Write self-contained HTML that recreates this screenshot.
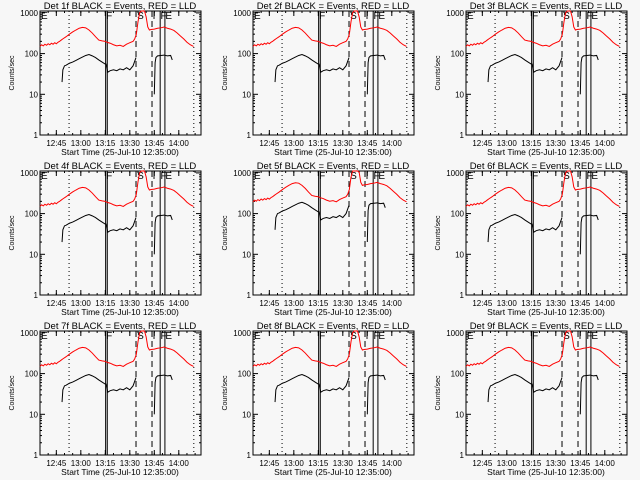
<!DOCTYPE html>
<html><head><meta charset="utf-8"><style>
body{margin:0;background:#f7f7f7;}
svg{display:block;font-family:"Liberation Sans",sans-serif;}
</style></head><body>
<svg id="c" width="640" height="480"></svg>
<script>
const detectors=["1f","2f","3f","4f","5f","6f","7f","8f","9f"];
const redScale=[1,1,1,1,1.3,1,1,1,1];
const blackScale=[1,1,1,1,2,1,1,1,1];
const redT=[0,1,2,3,4,5,6,7,8,9,10,11,12,13,14,16,18,20,22,24,26,28,30,32,34,36,38,40,41,43,45,47,49,51,53,55,57,58,59,60,61,62,63,64,65,66,67,68,70,72,74,76,78,80,82,84,86,88,90,92,94];
const redV=[150,165,155,170,160,175,165,180,170,185,175,190,200,215,230,260,300,340,380,420,440,430,380,320,260,215,205,200,190,180,165,155,160,150,170,185,200,230,300,600,1000,1150,1200,1150,800,450,380,390,400,420,430,450,420,400,370,320,270,230,190,165,150];
const blackT1=[13.5,14,15,16,17,18,20,22,24,26,28,30,32,34,36,38,40,40.5,41.5,43,45,47,49,51,53,55,57,58.8];
const blackV1=[20,40,50,52,55,58,62,68,75,82,90,95,88,80,70,62,55,55,35,38,40,38,42,40,45,40,50,80];
const blackT2=[70,70.5,71,72,74,76,78,80,81];
const blackV2=[10,60,80,88,90,92,88,90,70];
const tickLabels=["12:45","13:00","13:15","13:30","13:45","14:00"];
const tickMins=[10,25,40,55,70,85];
const dottedT=[17.8,94.2];
const solidT=[40.2,41.2,73.6,76.5];
const dashedT=[58.8,68.6];
const yTicks=[1,10,100,1000];
const NS="http://www.w3.org/2000/svg";
const svg=document.getElementById('c');
function mk(tag,attrs,parent,name){const e=document.createElementNS(NS,tag);for(const k in attrs)e.setAttribute(k,attrs[k]);


parent.appendChild(e);return e;}
function txt(s,attrs,parent,name){const e=mk('text',attrs,parent,name);e.textContent=s;return e;}
const L=40,R=201,T=11,B=135,PPD=40.7,TMAX=98.6;
detectors.forEach((d,i)=>{
  const ox=(i%3)*213, oy=Math.floor(i/3)*160;
  const g=mk('g',{transform:`translate(${ox},${oy})`},svg,'panel-det-'+d);
  const xs=t=>L+t/TMAX*(R-L);
  const ys=v=>B-Math.log10(Math.max(v,1))*PPD;
  txt(`Det ${d} BLACK = Events, RED = LLD`,{x:120,y:9,'font-size':9.5,'text-anchor':'middle'},g,'panel-title');
  mk('rect',{x:L,y:T,width:R-L,height:B-T,fill:'none',stroke:'#000','stroke-width':1},g,'plot-frame');
  yTicks.forEach(v=>{const y=ys(v);
    mk('line',{x1:L,x2:L+5,y1:y,y2:y,stroke:'#000'},g,'y-tick');
    mk('line',{x1:R-5,x2:R,y1:y,y2:y,stroke:'#000'},g,'y-tick');
    txt(String(v),{x:L-2,y:y+3,'font-size':8,'text-anchor':'end'},g,'y-tick-label');
    if(v<1000)for(let m=2;m<10;m++){const ym=ys(v*m);
      mk('line',{x1:L,x2:L+2,y1:ym,y2:ym,stroke:'#000'},g,'y-minor-tick');
      mk('line',{x1:R-2,x2:R,y1:ym,y2:ym,stroke:'#000'},g,'y-minor-tick');}
  });
  txt('Counts/sec',{x:0,y:0,'font-size':7,'text-anchor':'middle',transform:`translate(14,73) rotate(-90)`},g,'y-axis-title');
  tickMins.forEach((t,k)=>{const x=xs(t);
    mk('line',{x1:x,x2:x,y1:B,y2:B-5,stroke:'#000'},g,'x-tick');
    mk('line',{x1:x,x2:x,y1:T,y2:T+5,stroke:'#000'},g,'x-tick');
    txt(tickLabels[k],{x:x,y:146,'font-size':8,'text-anchor':'middle'},g,'x-tick-label');});
  for(let t=5;t<TMAX;t+=5){const x=xs(t);
    mk('line',{x1:x,x2:x,y1:B,y2:B-2,stroke:'#000'},g,'x-minor-tick');
    mk('line',{x1:x,x2:x,y1:T,y2:T+2,stroke:'#000'},g,'x-minor-tick');}
  txt('Start Time (25-Jul-10 12:35:00)',{x:120,y:155,'font-size':8.5,'text-anchor':'middle'},g,'x-axis-title');
  dottedT.forEach(t=>mk('line',{x1:xs(t),x2:xs(t),y1:T,y2:B,stroke:'#000','stroke-dasharray':'1,3'},g,'dotted-marker'));
  dashedT.forEach(t=>mk('line',{x1:xs(t),x2:xs(t),y1:T,y2:B,stroke:'#000','stroke-dasharray':'6,4'},g,'dashed-marker'));
  solidT.forEach(t=>mk('line',{x1:xs(t),x2:xs(t),y1:T,y2:B,stroke:'#000','stroke-width':1},g,'solid-marker'));
  [['E',L+1],['F',xs(40.5)],['S',xs(59.5)],['I',xs(69)],['F',xs(73.8)],['E',xs(76.8)]].forEach(([s,x])=>
    txt(s,{x:x,y:T+8,'font-size':10},g,'marker-letter'));
  mk('polyline',{points:redT.map((t,k)=>xs(t)+','+Math.max(T,ys(redV[k]*redScale[i]))).join(' '),fill:'none',stroke:'#ff0000','stroke-width':1},g,'red-lld-series');
  mk('polyline',{points:blackT1.map((t,k)=>xs(t)+','+ys(blackV1[k]*blackScale[i])).join(' '),fill:'none',stroke:'#000','stroke-width':1},g,'black-events-series-1');
  mk('polyline',{points:blackT2.map((t,k)=>xs(t)+','+ys(blackV2[k]*blackScale[i])).join(' '),fill:'none',stroke:'#000','stroke-width':1},g,'black-events-series-2');
});
</script>
</body></html>
